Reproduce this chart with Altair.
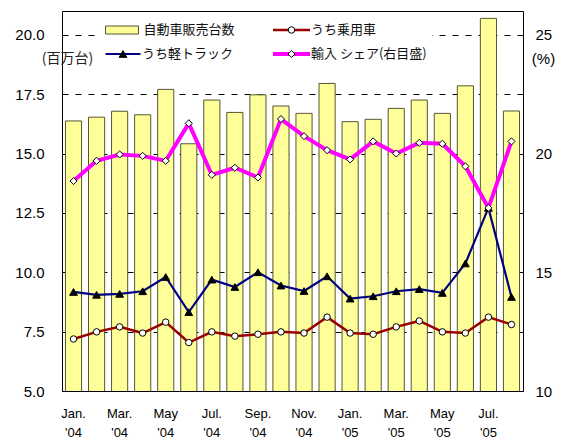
import altair as alt
import pandas as pd

months = ["Jan. '04", "Feb. '04", "Mar. '04", "Apr. '04", "May '04", "Jun. '04",
          "Jul. '04", "Aug. '04", "Sep. '04", "Oct. '04", "Nov. '04", "Dec. '04",
          "Jan. '05", "Feb. '05", "Mar. '05", "Apr. '05", "May '05", "Jun. '05",
          "Jul. '05", "Aug. '05"]
total = [16.37, 16.53, 16.78, 16.63, 17.70, 15.41, 17.25, 16.73, 17.47, 17.00,
         16.69, 17.95, 16.34, 16.44, 16.90, 17.25, 16.69, 17.85, 20.69, 16.79]
passenger = [7.19, 7.49, 7.70, 7.44, 7.90, 7.04, 7.49, 7.31, 7.39, 7.49,
             7.44, 8.11, 7.44, 7.39, 7.70, 7.95, 7.49, 7.44, 8.11, 7.80]
kei = [9.17, 9.05, 9.09, 9.20, 9.80, 8.32, 9.69, 9.38, 10.00, 9.44,
       9.21, 9.83, 8.89, 8.99, 9.20, 9.29, 9.13, 10.37, 12.71, 8.96]
share = [18.84, 19.69, 19.96, 19.90, 19.69, 21.27, 19.10, 19.40, 18.99, 21.45,
         20.73, 20.14, 19.75, 20.51, 20.00, 20.45, 20.41, 19.46, 17.71, 20.51]
left_ticks = [5, 7.5, 10, 12.5, 15, 17.5, 20]
right_ticks = [10, 15, 20, 25]
names = ["自動車販売台数", "うち乗用車", "うち軽トラック", "輸入 シェア(右目盛)"]

df = pd.DataFrame({"month": months, "total": total, "passenger": passenger,
                   "kei": kei, "share": share})

JP = "Noto Sans CJK JP"
LAT = "Liberation Sans"
BAR_FILL = "#FFFF99"
BAR_STROKE = "#555533"
RED = "#990000"
NAVY = "#000080"
MAG = "#FF00FF"

x = alt.X("month:O", sort=months,
          scale=alt.Scale(paddingInner=0.3, paddingOuter=0.15),
          axis=alt.Axis(values=months[::2], labelExpr="split(datum.value, ' ')",
                        labelAngle=0, title=None, ticks=False, domain=False,
                        grid=False, labelPadding=16, labelFontSize=13,
                        labelLineHeight=19, labelFont=LAT, labelColor="black"))

left_axis = alt.Axis(values=left_ticks, format=".1f", title="(百万台)",
                     titleAngle=0, titleX=5, titleY=47, titleAlign="center",
                     titleBaseline="middle", titleFont=JP, titleFontSize=14,
                     titleFontWeight="normal", titleColor="#222222",
                     grid=True, gridColor="black", gridDash=[6, 7], gridWidth=1,
                     ticks=False, domain=False, labelPadding=18,
                     labelFontSize=15, labelFont=LAT, labelColor="black")
left_scale = alt.Scale(domain=[5, 21], nice=False, zero=False)

right_axis = alt.Axis(values=right_ticks, format="d", title="(%)", orient="right",
                      titleAngle=0, titleX=20, titleY=47, titleAlign="center",
                      titleBaseline="middle", titleFont=LAT, titleFontSize=15,
                      titleFontWeight="normal", titleColor="black",
                      grid=False, ticks=False, domain=False, labelPadding=12,
                      labelFontSize=15, labelFont=LAT, labelColor="black")
right_scale = alt.Scale(domain=[10, 26], nice=False, zero=False)

base = alt.Chart(df)

bars = base.mark_bar(fill=BAR_FILL, stroke=BAR_STROKE, strokeWidth=1, clip=True).encode(
    x=x, y=alt.Y("total:Q", scale=left_scale, axis=left_axis))

pass_line = base.mark_line(color=RED, strokeWidth=2.5).encode(
    x=x, y=alt.Y("passenger:Q", scale=left_scale, axis=left_axis))
pass_pts = base.mark_point(shape="circle", filled=True, fill="white", stroke="black",
                           strokeWidth=1, size=42, opacity=1).encode(
    x=x, y=alt.Y("passenger:Q", scale=left_scale, axis=left_axis))

kei_line = base.mark_line(color=NAVY, strokeWidth=2.2).encode(
    x=x, y=alt.Y("kei:Q", scale=left_scale, axis=left_axis))
kei_pts = base.mark_point(shape="triangle-up", filled=True, fill="black", stroke="black",
                          strokeWidth=1, size=60, opacity=1).encode(
    x=x, y=alt.Y("kei:Q", scale=left_scale, axis=left_axis))

left = alt.layer(bars, pass_line, kei_line, pass_pts, kei_pts)

share_line = base.mark_line(color=MAG, strokeWidth=4).encode(
    x=x, y=alt.Y("share:Q", scale=right_scale, axis=right_axis))
share_pts = base.mark_point(shape="diamond", filled=True, fill="white", stroke="black",
                            strokeWidth=1, size=50, opacity=1).encode(
    x=x, y=alt.Y("share:Q", scale=right_scale, axis=right_axis))
right = alt.layer(share_line, share_pts)

# custom legend
one = pd.DataFrame({"a": [0]})
r1, r2 = 19, 43
lx1, lx2 = 43.5, 211
sw = 35

leg_bg = alt.Chart(one).mark_rect(fill="white").encode(
    x=alt.value(38), x2=alt.value(370), y=alt.value(6), y2=alt.value(56))
leg_bar = alt.Chart(one).mark_rect(fill=BAR_FILL, stroke=BAR_STROKE, strokeWidth=1).encode(
    x=alt.value(lx1), x2=alt.value(lx1 + 33), y=alt.value(r1 - 4), y2=alt.value(r1 + 4))
leg_red = alt.Chart(one).mark_rule(color=RED, strokeWidth=2.5).encode(
    x=alt.value(lx2), x2=alt.value(lx2 + sw + 2), y=alt.value(r1))
leg_red_pt = alt.Chart(one).mark_point(shape="circle", filled=True, fill="white",
                                        stroke="black", strokeWidth=1, size=42, opacity=1).encode(
    x=alt.value(lx2 + 18.5), y=alt.value(r1))
leg_blue = alt.Chart(one).mark_rule(color=NAVY, strokeWidth=2.2).encode(
    x=alt.value(lx1), x2=alt.value(lx1 + sw), y=alt.value(r2))
leg_blue_pt = alt.Chart(one).mark_point(shape="triangle-up", filled=True, fill="black",
                                         stroke="black", strokeWidth=1, size=60, opacity=1).encode(
    x=alt.value(lx1 + 17.5), y=alt.value(r2))
leg_mag = alt.Chart(one).mark_rule(color=MAG, strokeWidth=4).encode(
    x=alt.value(lx2), x2=alt.value(lx2 + sw + 2), y=alt.value(r2))
leg_mag_pt = alt.Chart(one).mark_point(shape="diamond", filled=True, fill="white",
                                        stroke="black", strokeWidth=1, size=50, opacity=1).encode(
    x=alt.value(lx2 + 18.5), y=alt.value(r2))


def leg_text(txt, xx, yy):
    return alt.Chart(pd.DataFrame({"t": [txt]})).mark_text(
        font=JP, fontSize=13, align="left", baseline="middle", color="#111111").encode(
        x=alt.value(xx), y=alt.value(yy), text="t:N")


legend = alt.layer(leg_bg, leg_bar, leg_red, leg_red_pt, leg_blue, leg_blue_pt,
                   leg_mag, leg_mag_pt,
                   leg_text(names[0], 81.5, r1), leg_text(names[1], 249, r1),
                   leg_text(names[2], 80, r2), leg_text(names[3], 249, r2))

chart = alt.layer(left, right, legend).resolve_scale(y="independent").properties(
    width=461, height=380,
    autosize=alt.AutoSizeParams(type="none"),
    padding={"left": 54, "top": 3, "right": 33, "bottom": 50},
).configure_view(stroke="black", strokeWidth=1)

chart.save("out.html", embed_options={"renderer": "svg", "actions": False})
